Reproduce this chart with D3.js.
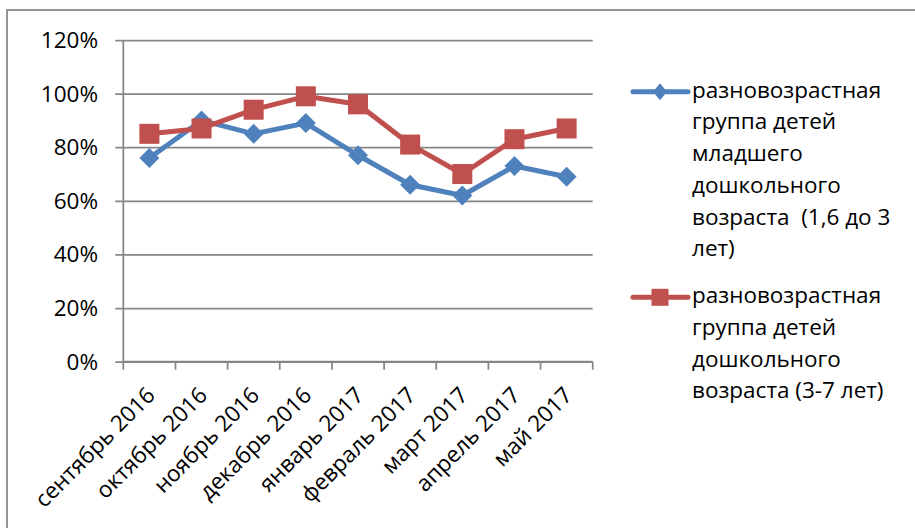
<!DOCTYPE html>
<html>
<head>
<meta charset="utf-8">
<script src="https://cdn.jsdelivr.net/npm/d3@7"></script>
<style>
  html, body { margin: 0; padding: 0; background: #fff; }
  svg { display: block; }
  text { font-family: "Open Sans", "Noto Sans", sans-serif; fill: #000; }
</style>
</head>
<body>
<svg id="chart" width="915" height="528"></svg>
<script>
const categories = ["сентябрь 2016", "октябрь 2016", "ноябрь 2016", "декабрь 2016",
  "январь 2017", "февраль 2017", "март 2017", "апрель 2017", "май 2017"];
const seriesNames = [
  ["разновозрастная", "группа детей", "младшего", "дошкольного", "возраста  (1,6 до 3", "лет)"],
  ["разновозрастная", "группа детей", "дошкольного", "возраста (3-7 лет)"]
];
const youngerValues = [0.76, 0.90, 0.85, 0.89, 0.77, 0.66, 0.62, 0.73, 0.69];
const olderValues   = [0.85, 0.87, 0.94, 0.99, 0.96, 0.81, 0.70, 0.83, 0.87];
const yTickValues = [0, 0.2, 0.4, 0.6, 0.8, 1.0, 1.2];
const yTickLabels = ["0%", "20%", "40%", "60%", "80%", "100%", "120%"];
const colors = ["#4F81BD", "#C0504D"];

const svg = d3.select("#chart");
const gridColor = "#868686";
const fontSize = 22.5;

// outer frame
svg.append("rect").attr("x", 7).attr("y", 10).attr("width", 940).attr("height", 560)
  .attr("fill", "none").attr("stroke", gridColor).attr("stroke-width", 1.75);

const pLeft = 123.3, pRight = 592.7, pTop = 40, pBottom = 361.7;
const x = d3.scaleBand().domain(categories).range([pLeft, pRight]).padding(0);
const y = d3.scaleLinear().domain([0, 1.2]).range([pBottom, pTop]);

// gridlines + y ticks
const yAxis = d3.axisLeft(y).tickValues(yTickValues).tickSize(-(pRight - pLeft)).tickFormat("");
const gy = svg.append("g").attr("transform", `translate(${pLeft},0)`).call(yAxis);
gy.select(".domain").remove();
gy.selectAll(".tick line").attr("stroke", gridColor).attr("stroke-width", 1.75)
  .attr("x1", -8).attr("x2", pRight - pLeft);

// y labels
svg.append("g").selectAll("text").data(yTickValues).join("text")
  .attr("x", 98).attr("y", d => y(d) + 8)
  .attr("text-anchor", "end").attr("font-size", fontSize)
  .text((d, i) => yTickLabels[i]);

// y axis line
svg.append("line").attr("x1", pLeft).attr("x2", pLeft).attr("y1", pTop).attr("y2", pBottom)
  .attr("stroke", gridColor).attr("stroke-width", 1.75);

// x axis ticks at band boundaries
const boundaries = categories.map(c => x(c)).concat([pRight]);
svg.append("g").selectAll("line").data(boundaries).join("line")
  .attr("x1", d => d).attr("x2", d => d).attr("y1", pBottom).attr("y2", pBottom + 8)
  .attr("stroke", gridColor).attr("stroke-width", 1.75);
svg.append("line").attr("x1", pLeft).attr("x2", pRight).attr("y1", pBottom).attr("y2", pBottom)
  .attr("stroke", gridColor).attr("stroke-width", 1.75);

// x labels
svg.append("g").selectAll("text").data(categories).join("text")
  .attr("transform", d => `translate(${x(d) + x.bandwidth() / 2 + 1},${pBottom + 29}) rotate(-45)`)
  .attr("text-anchor", "end").attr("dominant-baseline", "central")
  .attr("font-size", fontSize)
  .text(d => d);

const cx = d => x(d) + x.bandwidth() / 2;
const allSeries = [youngerValues, olderValues];
const line = d3.line().x((d, i) => cx(categories[i])).y(d => y(d));

const diamond = (s) => `M0,${-s}L${s},0L0,${s}L${-s},0Z`;

allSeries.forEach((vals, si) => {
  const g = svg.append("g");
  g.append("path").datum(vals).attr("d", line).attr("fill", "none")
    .attr("stroke", colors[si]).attr("stroke-width", 5)
    .attr("stroke-linejoin", "round").attr("stroke-linecap", "round");
  if (si === 0) {
    g.selectAll("path.m").data(vals).join("path").attr("class", "m")
      .attr("d", diamond(10))
      .attr("transform", (d, i) => `translate(${cx(categories[i])},${y(d)})`)
      .attr("fill", colors[si]);
  } else {
    g.selectAll("rect.m").data(vals).join("rect").attr("class", "m")
      .attr("x", (d, i) => cx(categories[i]) - 10).attr("y", d => y(d) - 10)
      .attr("width", 20).attr("height", 20)
      .attr("fill", colors[si]);
  }
});

// legend
const legendTops = [97.7, 303.3];
const lineStep = 31.7;
seriesNames.forEach((lines, si) => {
  const g = svg.append("g");
  const my = legendTops[si] - 6;
  g.append("line").attr("x1", 633).attr("x2", 688).attr("y1", my).attr("y2", my)
    .attr("stroke", colors[si]).attr("stroke-width", 5).attr("stroke-linecap", "round");
  if (si === 0) {
    g.append("path").attr("d", `M0,-8.5L7,0L0,8.5L-7,0Z`)
      .attr("transform", `translate(660,${my})`).attr("fill", colors[si]);
  } else {
    g.append("rect").attr("x", 651.5).attr("y", my - 8.5).attr("width", 17).attr("height", 17)
      .attr("fill", colors[si]);
  }
  g.selectAll("text").data(lines).join("text")
    .attr("x", 692).attr("y", (d, i) => legendTops[si] + i * lineStep)
    .attr("font-size", fontSize)
    .style("white-space", "pre")
    .text(d => d);
});
</script>
</body>
</html>
